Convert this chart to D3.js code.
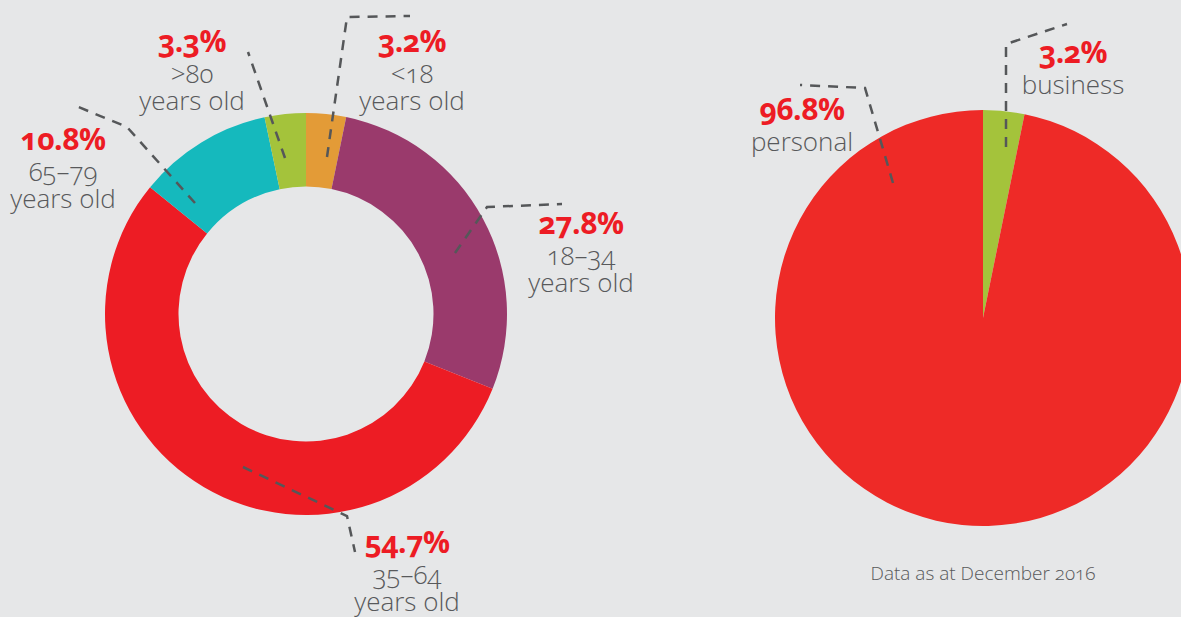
<!DOCTYPE html>
<html>
<head>
<meta charset="utf-8">
<script src="https://cdn.jsdelivr.net/npm/d3@7"></script>
<style>
  html, body { margin: 0; padding: 0; background: #e6e7e8; }
  svg { display: block; }
  .pct { font-family: "Open Sans", sans-serif; font-weight: 700; fill: #ed1c24; font-variant-numeric: oldstyle-nums; }
  .sub { font-family: "Open Sans", sans-serif; font-weight: 300; fill: #58595b; font-variant-numeric: oldstyle-nums; }
  .leader { fill: none; stroke: #555759; stroke-width: 2.5; stroke-dasharray: 10 8; }
</style>
</head>
<body>
<div id="main"></div>
<script>
// age split (donut)
const ageGroups = ['<18', '18–34', '35–64', '65–79', '>80'];
const ageShares = [3.2, 27.8, 54.7, 10.8, 3.3];
const ageColors = ['#e39b37', '#9a3a6c', '#ed1c24', '#15b9bd', '#a4c33b'];

// account split (pie)
const accountTypes = ['business', 'personal'];
const accountShares = [3.2, 96.8];
const accountColors = ['#a4c33b', '#ee2a27'];

const footnote = 'Data as at December 2016';

const width = 1181;
const height = 617;

const svg = d3.select('#main').append('svg')
  .attr('width', width)
  .attr('height', height);

svg.append('rect').attr('width', width).attr('height', height).attr('fill', '#e6e7e8');

const fmt = (v) => `${d3.format('.1f')(v)}%`;

/* label placement, by item index */
const ageLabelPos = [
  { x: 412, y: 52 },
  { x: 581, y: 234 },
  { x: 407, y: 553 },
  { x: 63, y: 150 },
  { x: 192, y: 52 },
];
const ageLeaders = [
  [[327, 157], [347, 17], [410, 16]],
  [[455, 253], [487, 207], [562, 204]],
  [[243, 467], [347, 516], [355, 552]],
  [[195, 203], [127, 127], [76, 106]],
  [[285, 158], [248, 52]],
];
const accLabelPos = [
  { x: 1073, y: 63 },
  { x: 802, y: 120 },
];
const accLeaders = [
  [[1006, 147], [1006, 44], [1067, 24]],
  [[893, 183], [865, 88], [800, 85]],
];

const pie = d3.pie().sort(null).value((d) => d);

// donut
const donut = svg.append('g').attr('transform', 'translate(306,314)');
const donutArc = d3.arc().innerRadius(127.5).outerRadius(201);
donut.selectAll('path')
  .data(pie(ageShares))
  .join('path')
  .attr('d', donutArc)
  .attr('fill', (d, i) => ageColors[i]);

// pie
const full = svg.append('g').attr('transform', 'translate(983,318)');
const pieArc = d3.arc().innerRadius(0).outerRadius(208);
full.selectAll('path')
  .data(pie(accountShares))
  .join('path')
  .attr('d', pieArc)
  .attr('fill', (d, i) => accountColors[i]);

const line = d3.line().curve(d3.curveLinear);

function addLabels(values, subLines, positions, leaders) {
  svg.append('g').selectAll('path')
    .data(leaders)
    .join('path')
    .attr('class', 'leader')
    .attr('d', (d) => line(d));

  // one text element per label: bold figure + grey caption lines
  const t = svg.append('g').selectAll('text')
    .data(values)
    .join('text')
    .attr('text-anchor', 'middle')
    .attr('x', (d, i) => positions[i].x)
    .attr('y', (d, i) => positions[i].y);

  t.append('tspan')
    .attr('class', 'pct')
    .attr('font-size', 30)
    .attr('letter-spacing', -0.5)
    .text((d) => fmt(d));

  t.each(function (d, i) {
    const sel = d3.select(this);
    subLines[i].forEach((s, k) => {
      sel.append('tspan')
        .attr('class', 'sub')
        .attr('font-size', 26)
        .attr('x', positions[i].x)
        .attr('y', positions[i].y + 31 + k * 27)
        .text(s);
    });
  });
}

addLabels(ageShares, ageGroups.map((a) => [a, 'years old']), ageLabelPos, ageLeaders);
addLabels(accountShares, accountTypes.map((a) => [a]), accLabelPos, accLeaders);

svg.append('text')
  .attr('class', 'sub')
  .attr('x', 983)
  .attr('y', 580)
  .attr('text-anchor', 'middle')
  .attr('font-size', 19)
  .attr('font-weight', 400)
  .text(footnote);
</script>
</body>
</html>
